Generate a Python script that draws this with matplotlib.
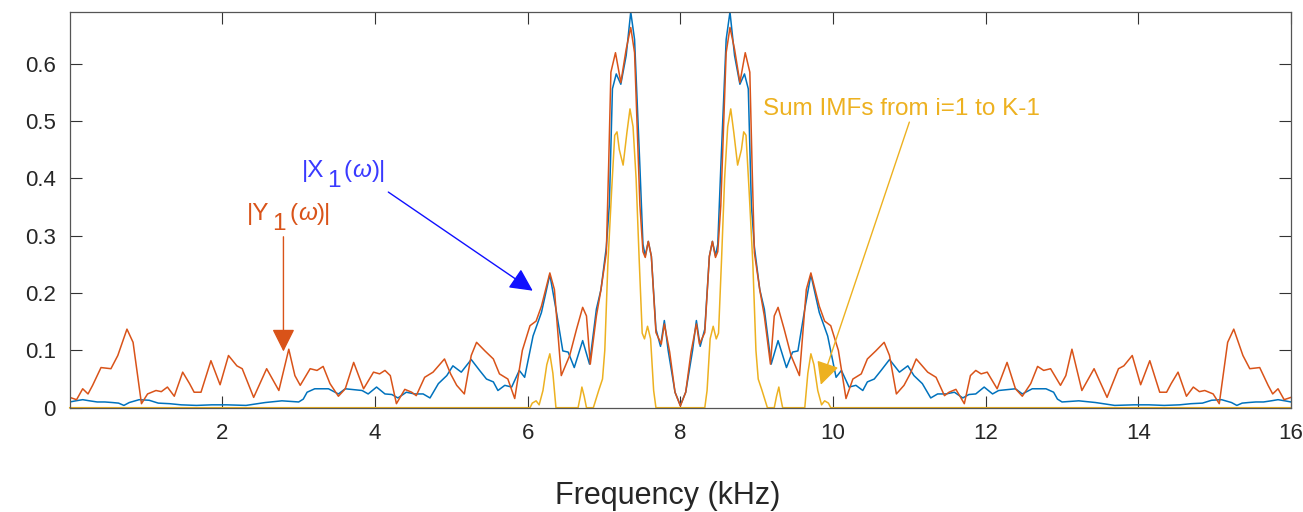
import matplotlib
matplotlib.use('Agg')
import matplotlib.pyplot as plt

plt.rcParams['font.family'] = ['Liberation Sans', 'DejaVu Sans']

# |X_1(w)| (blue) at peaks and troughs
freq_x = [0.00, 0.08, 0.17, 0.26, 0.36, 0.46, 0.56, 0.64, 0.71, 0.78, 0.91, 1.04, 1.16, 1.31,
          1.46, 1.66, 1.86, 2.06, 2.31, 2.56, 2.78, 3.00, 3.06, 3.11, 3.21, 3.39, 3.52, 3.61,
          3.83, 3.91, 4.02, 4.13, 4.22, 4.30, 4.41, 4.52, 4.63, 4.72, 4.83, 4.94, 5.02, 5.13,
          5.26, 5.37, 5.46, 5.55, 5.61, 5.70, 5.79, 5.89, 5.96, 6.07, 6.18, 6.29, 6.37, 6.46,
          6.53, 6.61, 6.72, 6.81, 6.90, 6.96, 7.03, 7.07, 7.11, 7.16, 7.22, 7.29, 7.35, 7.40,
          7.47, 7.51, 7.54, 7.58, 7.62, 7.68, 7.74, 7.79, 7.84, 7.93, 8.00,
          8.07, 8.16, 8.21, 8.26, 8.32, 8.38, 8.42, 8.46, 8.49, 8.53, 8.60, 8.65, 8.71, 8.78,
          8.84, 8.89, 8.93, 8.97, 9.04, 9.10, 9.19, 9.28, 9.39, 9.47, 9.54, 9.63, 9.71, 9.82,
          9.93, 10.04, 10.11, 10.21, 10.30, 10.39, 10.45, 10.54, 10.63, 10.74, 10.87, 10.98,
          11.06, 11.17, 11.28, 11.37, 11.48, 11.59, 11.70, 11.78, 11.87, 11.98, 12.09, 12.17,
          12.39, 12.48, 12.61, 12.79, 12.89, 12.94, 13.00, 13.22, 13.44, 13.69, 13.94, 14.14,
          14.34, 14.54, 14.69, 14.84, 14.96, 15.09, 15.22, 15.29, 15.36, 15.44, 15.54, 15.64,
          15.74, 15.83, 15.92, 16.00]
mag_x = [0.010, 0.012, 0.014, 0.012, 0.010, 0.010, 0.009, 0.008, 0.004, 0.009, 0.014, 0.013,
         0.008, 0.007, 0.005, 0.004, 0.005, 0.005, 0.004, 0.009, 0.012, 0.010, 0.015, 0.027,
         0.033, 0.033, 0.024, 0.033, 0.030, 0.024, 0.036, 0.024, 0.023, 0.017, 0.027, 0.024,
         0.024, 0.017, 0.042, 0.056, 0.073, 0.062, 0.084, 0.065, 0.050, 0.045, 0.030, 0.039,
         0.036, 0.065, 0.053, 0.125, 0.166, 0.232, 0.172, 0.099, 0.097, 0.070, 0.117, 0.076,
         0.172, 0.206, 0.280, 0.354, 0.556, 0.582, 0.564, 0.614, 0.690, 0.642, 0.420, 0.285,
         0.265, 0.290, 0.264, 0.137, 0.107, 0.152, 0.100, 0.027, 0.004,
         0.027, 0.100, 0.152, 0.107, 0.137, 0.264, 0.290, 0.265, 0.285, 0.420, 0.642, 0.690,
         0.614, 0.564, 0.582, 0.556, 0.354, 0.280, 0.206, 0.172, 0.076, 0.117, 0.070, 0.097,
         0.099, 0.172, 0.232, 0.166, 0.125, 0.053, 0.065, 0.036, 0.039, 0.030, 0.045, 0.050,
         0.065, 0.084, 0.062, 0.073, 0.056, 0.042, 0.017, 0.024, 0.024, 0.027, 0.017, 0.023,
         0.024, 0.036, 0.024, 0.030, 0.033, 0.024, 0.033, 0.033, 0.027, 0.015, 0.010, 0.012,
         0.009, 0.004, 0.005, 0.005, 0.004, 0.005, 0.007, 0.008, 0.013, 0.014, 0.009, 0.004,
         0.008, 0.009, 0.010, 0.010, 0.012, 0.014, 0.012, 0.010]

# |Y_1(w)| (orange)
freq_y = [0.00, 0.09, 0.17, 0.24, 0.30, 0.41, 0.54, 0.63, 0.75, 0.83, 0.94, 1.02, 1.13, 1.20,
          1.28, 1.37, 1.48, 1.57, 1.63, 1.72, 1.85, 1.97, 2.08, 2.19, 2.26, 2.41, 2.58, 2.74,
          2.87, 2.95, 3.02, 3.15, 3.24, 3.32, 3.41, 3.52, 3.61, 3.72, 3.85, 3.98, 4.06, 4.13,
          4.20, 4.28, 4.39, 4.48, 4.54, 4.65, 4.76, 4.91, 4.99, 5.07, 5.17, 5.26, 5.33, 5.44,
          5.55, 5.63, 5.74, 5.83, 5.93, 6.03, 6.11, 6.18, 6.29, 6.35, 6.44, 6.55, 6.64, 6.72,
          6.77, 6.82, 6.90, 6.96, 7.03, 7.06, 7.09, 7.15, 7.22, 7.29, 7.35, 7.40, 7.47, 7.51,
          7.54, 7.58, 7.62, 7.68, 7.75, 7.79, 7.86, 7.93, 8.00,
          8.07, 8.14, 8.21, 8.25, 8.32, 8.38, 8.42, 8.46, 8.49, 8.53, 8.60, 8.65, 8.71, 8.78,
          8.85, 8.91, 8.94, 8.97, 9.04, 9.10, 9.18, 9.23, 9.28, 9.36, 9.45, 9.56, 9.65, 9.71,
          9.82, 9.89, 9.97, 10.07, 10.17, 10.26, 10.37, 10.45, 10.56, 10.67, 10.74, 10.83,
          10.93, 11.01, 11.09, 11.24, 11.35, 11.46, 11.52, 11.61, 11.72, 11.80, 11.87, 11.94,
          12.02, 12.15, 12.28, 12.39, 12.48, 12.59, 12.68, 12.76, 12.85, 12.98, 13.05, 13.13,
          13.26, 13.42, 13.59, 13.74, 13.81, 13.92, 14.03, 14.15, 14.28, 14.37, 14.43, 14.52,
          14.63, 14.72, 14.80, 14.87, 14.98, 15.06, 15.17, 15.25, 15.37, 15.46, 15.59, 15.70,
          15.76, 15.83, 15.91, 16.00]
mag_y = [0.018, 0.014, 0.033, 0.024, 0.039, 0.070, 0.068, 0.091, 0.137, 0.114, 0.007, 0.024,
         0.030, 0.028, 0.036, 0.020, 0.062, 0.042, 0.027, 0.027, 0.082, 0.040, 0.091, 0.073,
         0.068, 0.018, 0.068, 0.030, 0.102, 0.056, 0.039, 0.068, 0.065, 0.072, 0.042, 0.020,
         0.033, 0.079, 0.033, 0.062, 0.059, 0.065, 0.056, 0.007, 0.032, 0.027, 0.021, 0.053,
         0.062, 0.085, 0.059, 0.039, 0.024, 0.091, 0.114, 0.099, 0.085, 0.059, 0.050, 0.016,
         0.100, 0.143, 0.151, 0.177, 0.235, 0.206, 0.056, 0.091, 0.137, 0.175, 0.160, 0.076,
         0.160, 0.206, 0.270, 0.420, 0.585, 0.619, 0.567, 0.625, 0.663, 0.619, 0.353, 0.272,
         0.262, 0.290, 0.264, 0.131, 0.111, 0.146, 0.097, 0.027, 0.003,
         0.027, 0.097, 0.146, 0.111, 0.131, 0.264, 0.290, 0.262, 0.272, 0.353, 0.619, 0.663,
         0.625, 0.567, 0.619, 0.585, 0.420, 0.270, 0.206, 0.160, 0.076, 0.160, 0.175, 0.137,
         0.091, 0.056, 0.206, 0.235, 0.177, 0.151, 0.143, 0.100, 0.016, 0.050, 0.059, 0.085,
         0.099, 0.114, 0.091, 0.024, 0.039, 0.059, 0.085, 0.062, 0.053, 0.021, 0.027, 0.032,
         0.007, 0.056, 0.065, 0.059, 0.062, 0.033, 0.079, 0.033, 0.020, 0.042, 0.072, 0.065,
         0.068, 0.039, 0.056, 0.102, 0.030, 0.068, 0.018, 0.068, 0.073, 0.091, 0.040, 0.082,
         0.027, 0.027, 0.042, 0.062, 0.020, 0.036, 0.028, 0.030, 0.024, 0.007, 0.114, 0.137,
         0.091, 0.068, 0.070, 0.039, 0.024, 0.033, 0.014, 0.018]

# sum of IMFs i=1..K-1 (yellow)
freq_imf = [0.00, 6.03, 6.06, 6.11, 6.15, 6.20, 6.25, 6.29, 6.33, 6.37, 6.66, 6.69, 6.71, 6.74,
            6.77, 6.86, 6.93, 6.98, 7.01, 7.05, 7.10, 7.14, 7.17, 7.20, 7.25, 7.30, 7.34, 7.38,
            7.42, 7.46, 7.50, 7.53, 7.57, 7.61, 7.65, 7.68,
            8.32, 8.35, 8.39, 8.43, 8.47, 8.50, 8.54, 8.58, 8.62, 8.66, 8.70, 8.75, 8.80, 8.83,
            8.86, 8.90, 8.95, 8.99, 9.02, 9.07, 9.14, 9.23, 9.26, 9.29, 9.31, 9.34, 9.63, 9.67,
            9.71, 9.75, 9.80, 9.85, 9.89, 9.94, 9.97, 16.00]
mag_imf = [0.0, 0.0, 0.008, 0.012, 0.005, 0.030, 0.075, 0.094, 0.060, 0.0, 0.0, 0.020, 0.036,
           0.020, 0.0, 0.0, 0.030, 0.050, 0.100, 0.250, 0.380, 0.475, 0.481, 0.450, 0.423,
           0.480, 0.521, 0.490, 0.400, 0.260, 0.130, 0.120, 0.142, 0.120, 0.030, 0.0,
           0.0, 0.030, 0.120, 0.142, 0.120, 0.130, 0.260, 0.400, 0.490, 0.521, 0.480, 0.423,
           0.450, 0.481, 0.475, 0.380, 0.250, 0.100, 0.050, 0.030, 0.0, 0.0, 0.020, 0.036,
           0.020, 0.0, 0.0, 0.060, 0.094, 0.075, 0.030, 0.005, 0.012, 0.008, 0.0, 0.0]

xticks = [2, 4, 6, 8, 10, 12, 14, 16]
yticks = [0, 0.1, 0.2, 0.3, 0.4, 0.5, 0.6]
ytick_labels = ['0', '0.1', '0.2', '0.3', '0.4', '0.5', '0.6']

BLUE = '#0072BD'
ORANGE = '#D95319'
YELLOW = '#EDB120'

fig = plt.figure(figsize=(13.03, 5.12), dpi=100)
ax = fig.add_axes([0.0535, 0.2037, 0.9373, 0.7729])

ax.plot(freq_x, mag_x, color=BLUE, lw=1.1)
ax.plot(freq_y, mag_y, color=ORANGE, lw=1.1)
ax.plot(freq_imf, mag_imf, color=YELLOW, lw=1.1, clip_on=False)

ax.set_xlim(0, 16)
ax.set_ylim(0, 0.69)
ax.set_xticks(xticks)
ax.set_xticklabels([str(t) for t in xticks])
ax.set_yticks(yticks)
ax.set_yticklabels(ytick_labels)
ax.tick_params(direction='in', top=True, right=True, length=8.5, width=0.8,
               color='#333333', labelsize=16, labelcolor='#262626')
ax.tick_params(axis='x', pad=11)
ax.tick_params(axis='y', pad=10)
for sp in ax.spines.values():
    sp.set_color('#555555')
    sp.set_linewidth(0.9)

ax.set_xlabel('Frequency (kHz)', fontsize=22, color='#262626')
ax.xaxis.set_label_coords(0.49, -0.185)


def sub_label(x, y, main, sub, color):
    # MATLAB-style label: |A_1(w)| with a full-size subscript below the baseline
    kw = dict(color=color, fontsize=17.5, textcoords='offset points',
              ha='left', va='bottom')
    t1 = ax.text(x, y, main, color=color, fontsize=17.5, ha='left', va='baseline')
    t2 = ax.annotate(sub, xy=(1, 0), xycoords=t1, xytext=(2, -7), **kw)
    t3 = ax.annotate('(', xy=(1, 0), xycoords=(t2, t1), xytext=(2.5, 0), **kw)
    t4 = ax.annotate('\u03c9', xy=(1, 0), xycoords=(t3, t1), xytext=(0.5, 0),
                     style='italic', **kw)
    ax.annotate(')|', xy=(1, 0), xycoords=(t4, t1), xytext=(0.5, 0), **kw)


arrow = '-|>,head_length=0.7,head_width=0.35'
ax.annotate('', xy=(6.066, 0.204), xytext=(4.174, 0.376),
            arrowprops=dict(arrowstyle=arrow, color='#1010FF', lw=1.0,
                            mutation_scale=20, shrinkA=0, shrinkB=0))
sub_label(3.04, 0.402, '|X', '1', '#3A3AFF')

ax.annotate('', xy=(2.80, 0.098), xytext=(2.80, 0.298),
            arrowprops=dict(arrowstyle=arrow, color=ORANGE, lw=1.0,
                            mutation_scale=20, shrinkA=0, shrinkB=0))
sub_label(2.32, 0.327, '|Y', '1', ORANGE)

ax.annotate('', xy=(9.84, 0.040), xytext=(11.0, 0.498),
            arrowprops=dict(arrowstyle=arrow, color=YELLOW, lw=1.0,
                            mutation_scale=20, shrinkA=0, shrinkB=0))
ax.text(9.08, 0.51, 'Sum IMFs from i=1 to K-1', color=YELLOW, fontsize=17.5,
        ha='left', va='baseline')

fig.savefig('out.png', dpi=100)
